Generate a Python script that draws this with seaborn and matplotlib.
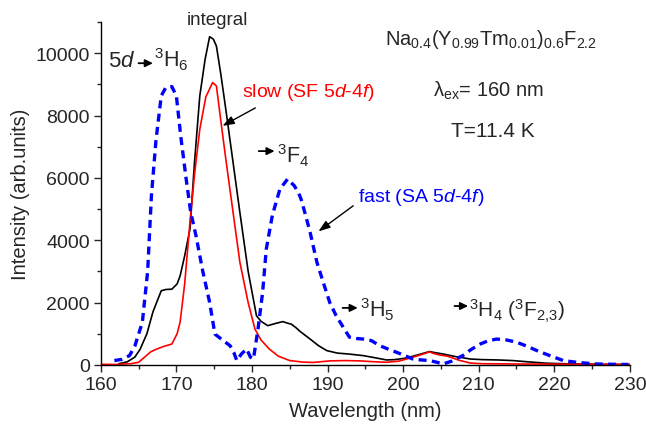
import numpy as np
import pandas as pd
import matplotlib
matplotlib.use("Agg")
import matplotlib.pyplot as plt
import seaborn as sns

# Emission spectra
integral_nm = [162.4, 163.5, 164.5, 165.2, 166.1, 166.9, 168.0, 168.6, 169.4, 170.1,
               170.5, 171.1, 171.8, 172.4, 173.1, 173.8, 174.4, 174.9, 175.3, 175.9,
               176.6, 177.5, 178.4, 179.5, 180.6, 181.2, 182.1, 183.1, 184.1, 184.7,
               185.2, 185.8, 186.4, 187.7, 188.8, 189.9, 191.3, 192.8, 194.7, 196.3,
               197.8, 198.9, 200.4, 201.9, 203.5, 204.1, 205.3, 206.9, 208.9, 210.5,
               212.5, 214.5, 216.5, 219.0, 222.6, 226.6, 230.0]
integral_val = [40, 100, 250, 500, 1000, 1700, 2380, 2420, 2430, 2600,
                2860, 3500, 4360, 6500, 8630, 9800, 10530, 10450, 10230, 9300,
                8100, 6500, 4900, 3000, 1580, 1400, 1260, 1330, 1390, 1340,
                1310, 1200, 1070, 830, 620, 460, 380, 350, 300, 230,
                160, 170, 220, 320, 430, 400, 350, 270, 190, 170,
                160, 140, 100, 55, 30, 20, 15]

slow_nm = [160.0, 162.0, 164.0, 165.0, 165.8, 166.6, 167.4, 168.4, 169.4, 170.1,
           170.5, 171.1, 171.8, 172.4, 173.1, 173.9, 174.8, 175.3, 175.9, 176.6,
           177.5, 178.4, 179.5, 180.4, 181.2, 182.3, 183.5, 185.0, 186.8, 188.1,
           190.3, 192.3, 194.3, 196.3, 197.8, 199.4, 200.9, 202.4, 203.5, 204.0,
           204.8, 205.9, 207.4, 208.9, 210.5, 215.5, 220.6, 225.6, 230.0]
slow_val = [20, 15, 40, 85, 250, 420, 510, 600, 670, 1000,
            1380, 2600, 4580, 6100, 7560, 8600, 9060, 8950, 7800, 6500,
            4900, 3300, 2000, 1150, 800, 510, 280, 140, 90, 80,
            130, 140, 130, 100, 85, 120, 220, 330, 420, 370,
            320, 280, 150, 60, 40, 30, 25, 20, 15]

fast_nm = [161.8, 162.8, 163.8, 164.5, 165.5, 166.2, 166.7, 167.3, 168.0, 168.6,
           169.4, 170.0, 170.6, 171.3, 171.9, 172.6, 173.5, 174.4, 175.1, 176.1,
           177.1, 177.6, 178.0, 178.6, 179.3, 179.8, 180.2, 180.8, 181.4, 181.9,
           182.7, 183.7, 184.7, 185.6, 186.2, 186.5, 187.1, 187.7, 188.6, 189.5,
           190.3, 191.1, 192.1, 192.9, 193.8, 194.7, 195.8, 196.9, 198.1, 199.2,
           200.4, 201.3, 202.4, 203.5, 204.4, 205.3, 206.4, 207.9, 208.9, 210.2,
           211.3, 212.4, 213.7, 215.0, 216.4, 217.7, 219.4, 221.2, 223.1, 225.6,
           228.0, 229.8]
fast_val = [140, 180, 300, 600, 1370, 3000, 5430, 7200, 8630, 8900,
            8930, 8630, 7300, 5960, 4900, 4140, 3000, 2010, 990, 800,
            620, 400, 140, 350, 510, 250, 190, 1150, 2300, 3720,
            4800, 5640, 5960, 5750, 5500, 5320, 4800, 4250, 3290, 2600,
            2000, 1600, 1200, 890, 850, 830, 780, 620, 500, 400,
            280, 190, 160, 140, 90, 30, 120, 300, 480, 670,
            780, 830, 800, 730, 600, 460, 300, 140, 80, 30,
            20, 15]

sns.set_style("ticks")
plt.rcParams["font.family"] = ["Liberation Sans", "DejaVu Sans"]
plt.rcParams["mathtext.fontset"] = "custom"
plt.rcParams["mathtext.rm"] = "Liberation Sans"
plt.rcParams["mathtext.it"] = "Liberation Sans:italic"
plt.rcParams["mathtext.bf"] = "Liberation Sans:bold"
plt.rcParams["mathtext.default"] = "regular"

fig = plt.figure(figsize=(6.46, 4.27), dpi=100)
ax = fig.add_axes([0.156, 0.143, 0.819, 0.803])

sns.lineplot(x=integral_nm, y=integral_val, color="black", lw=1.2, ax=ax)
sns.lineplot(x=slow_nm, y=slow_val, color="red", lw=1.2, ax=ax)
sns.lineplot(x=fast_nm, y=fast_val, color="#0000ff", lw=2.4,
             linestyle=(0, (2.4, 1.6)), ax=ax)

ax.set_xlim(160, 230)
ax.set_ylim(0, 11000)
ax.set_xticks(np.arange(160, 231, 10))
ax.set_xticks(np.arange(160, 231, 5), minor=True)
ax.set_yticks(np.arange(0, 10001, 2000))
ax.set_yticks(np.arange(0, 11001, 1000), minor=True)
ax.tick_params(axis="both", which="major", direction="out", length=5, width=1,
               labelsize=14, pad=3)
ax.tick_params(axis="both", which="minor", direction="out", length=3, width=1)
sns.despine(ax=ax)
for s in ["left", "bottom"]:
    ax.spines[s].set_linewidth(1.0)
    ax.spines[s].set_color("black")

ax.set_xlabel("Wavelength (nm)", fontsize=14.5, labelpad=6)
ax.set_ylabel("Intensity (arb.units)", fontsize=14.5, labelpad=4)

# small transition arrows and labels
small_arrow = dict(arrowstyle="-|>,head_length=0.45,head_width=0.22",
                   color="black", lw=1.3, mutation_scale=10,
                   shrinkA=0, shrinkB=0)
big_arrow = dict(arrowstyle="-|>,head_length=0.7,head_width=0.25",
                 color="black", lw=1.0, mutation_scale=10,
                 shrinkA=0, shrinkB=0)

fs = 14
tfs = 15.5
ax.text(175.5, 10930, "integral", fontsize=13.5, ha="center", va="baseline",
        clip_on=False)

ax.text(160.9, 9583, r"$5\mathit{d}$", fontsize=16, ha="left", va="baseline")
ax.annotate("", xy=(166.9, 9680), xytext=(165.0, 9680), arrowprops=small_arrow)
ax.text(167.1, 9583, r"${}^{3}H_{6}$", fontsize=tfs, ha="left", va="baseline")

ax.annotate("", xy=(183.0, 6860), xytext=(180.9, 6860), arrowprops=small_arrow)
ax.text(183.3, 6506, r"${}^{3}F_{4}$", fontsize=tfs, ha="left", va="baseline")

ax.annotate("", xy=(194.0, 1830), xytext=(192.0, 1830), arrowprops=small_arrow)
ax.text(194.3, 1570, r"${}^{3}H_{5}$", fontsize=tfs, ha="left", va="baseline")

ax.annotate("", xy=(208.6, 1890), xytext=(206.8, 1890), arrowprops=small_arrow)
ax.text(208.7, 1570, r"${}^{3}H_{4}\ ({}^{3}F_{2{,}3})$", fontsize=15,
        ha="left", va="baseline")

ax.text(178.75, 8630, r"slow (SF 5$\mathit{d}$-4$\mathit{f}$)", color="red",
        fontsize=fs, ha="left", va="baseline")
ax.annotate("", xy=(176.1, 7670), xytext=(180.45, 8245), arrowprops=big_arrow)

ax.text(194.05, 5266, r"fast (SA 5$\mathit{d}$-4$\mathit{f}$)", color="#0000ff",
        fontsize=fs, ha="left", va="baseline")
ax.annotate("", xy=(188.8, 4285), xytext=(193.4, 5106), arrowprops=big_arrow)

ax.text(197.6, 10310, r"$Na_{0.4}(Y_{0.99}Tm_{0.01})_{0.6}F_{2.2}$", fontsize=14.5,
        ha="left", va="baseline")
ax.text(204.0, 8630, r"$\lambda_{ex}$= 160 nm", fontsize=14.5,
        ha="left", va="baseline")
ax.text(206.3, 7330, "T=11.4 K", fontsize=15, ha="left", va="baseline")

fig.savefig("out.png", dpi=100)
